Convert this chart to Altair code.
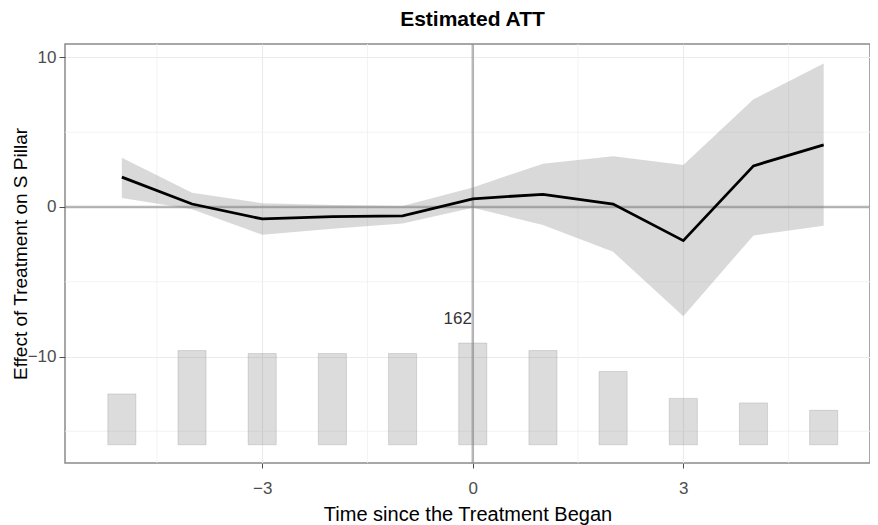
import altair as alt
import pandas as pd

# ---- data ----
periods = [-5, -4, -3, -2, -1, 0, 1, 2, 3, 4, 5]
att = [2.0, 0.2, -0.8, -0.65, -0.6, 0.55, 0.85, 0.2, -2.25, 2.75, 4.15]
ci_upper = [3.3, 0.95, 0.25, 0.13, 0.07, 1.3, 2.9, 3.4, 2.8, 7.2, 9.6]
ci_lower = [0.6, -0.15, -1.85, -1.45, -1.1, -0.05, -1.2, -3.0, -7.3, -1.9, -1.25]
bar_top = [-12.5, -9.6, -9.8, -9.8, -9.8, -9.1, -9.6, -11.0, -12.8, -13.1, -13.6]
bar_base = -15.9
bar_half_width = 0.2
max_count_label = ["162"]
max_count_period = [0]
max_count_y = [-7.5]

x_ticks = [-3, 0, 3]
y_ticks = [10, 0, -10]
x_minor = [-4.5, -1.5, 1.5, 4.5]
y_minor = [5, -5, -15]

FONT = "Liberation Sans"
XT = "Time since the Treatment Began"
YT = "Effect of Treatment on S Pillar"
x_dom = [-5.81, 5.66]
y_dom = [-17.12, 10.9]

df = pd.DataFrame({"t": periods, "att": att, "hi": ci_upper, "lo": ci_lower,
                   "top": bar_top})
df["base"] = bar_base
df["x1"] = df["t"] - bar_half_width
df["x2"] = df["t"] + bar_half_width

xs = alt.Scale(domain=x_dom, nice=False, zero=False)
ys = alt.Scale(domain=y_dom, nice=False, zero=False)


def X(f):
    return alt.X(f, scale=xs, title=XT)


def Y(f):
    return alt.Y(f, scale=ys, title=YT)


base = alt.Chart(df)

# axes layer (major grid + labels)
axes = base.mark_point(opacity=0).encode(
    x=alt.X("t:Q", scale=xs, title=XT,
            axis=alt.Axis(values=x_ticks, format="d",
                          grid=True, gridColor="#ebebeb", gridWidth=1.1,
                          tickSize=5, tickColor="#4d4d4d", labelPadding=12,
                          labelFontSize=17, labelColor="#4d4d4d", labelFont=FONT,
                          titleFontSize=20, titleFont=FONT, titleFontWeight="normal",
                          titleColor="#000000", titlePadding=8, domain=False)),
    y=alt.Y("att:Q", scale=ys, title=YT,
            axis=alt.Axis(values=y_ticks, format="d",
                          grid=True, gridColor="#ebebeb", gridWidth=1.1,
                          tickSize=6, tickColor="#4d4d4d", labelPadding=3,
                          labelFontSize=17, labelColor="#4d4d4d", labelFont=FONT,
                          titleFontSize=19, titleFont=FONT, titleFontWeight="normal",
                          titleColor="#000000", titleX=-39, titleBaseline="alphabetic",
                          domain=False)),
)

minor_v = alt.Chart(pd.DataFrame({"v": x_minor})).mark_rule(
    color="#f0f0f0", strokeWidth=0.8).encode(x=X("v:Q"))
minor_h = alt.Chart(pd.DataFrame({"v": y_minor})).mark_rule(
    color="#f0f0f0", strokeWidth=0.8).encode(y=Y("v:Q"))

band = base.mark_area(color="#808080", opacity=0.3).encode(
    x=X("t:Q"), y=Y("lo:Q"), y2="hi:Q",
)

bars = base.mark_rect(fill="#808080", fillOpacity=0.28, stroke="#808080",
                      strokeOpacity=0.25, strokeWidth=1).encode(
    x=X("x1:Q"), x2="x2:Q", y=Y("base:Q"), y2="top:Q",
)

ref_h = alt.Chart(pd.DataFrame({"v": [0]})).mark_rule(
    color="#808080", opacity=0.55, strokeWidth=2.5).encode(y=Y("v:Q"))
ref_v = alt.Chart(pd.DataFrame({"v": [0]})).mark_rule(
    color="#808080", opacity=0.55, strokeWidth=2.5).encode(x=X("v:Q"))

line = base.mark_line(color="#000000", strokeWidth=2.8).encode(
    x=X("t:Q"), y=Y("att:Q"),
)

label = alt.Chart(pd.DataFrame({"t": max_count_period, "y": max_count_y,
                                "txt": max_count_label})).mark_text(
    font=FONT, fontSize=17, color="#333333", dx=-15, baseline="middle").encode(
    x=X("t:Q"), y=Y("y:Q"), text="txt:N",
)

chart = alt.layer(axes, minor_v, minor_h, band, bars, ref_h, ref_v, line, label).properties(
    width=805, height=419,
    autosize=alt.AutoSizeParams(type="none"),
    padding={"left": 57, "top": 36, "right": 0, "bottom": 62},
    title=alt.TitleParams("Estimated ATT", font=FONT, fontSize=21, fontWeight="bold",
                          anchor="middle", color="#000000", offset=13, dx=5),
).configure_view(stroke="#8a8a8a", strokeWidth=1.5)

chart.save("out.html", embed_options={"renderer": "svg", "actions": False})
